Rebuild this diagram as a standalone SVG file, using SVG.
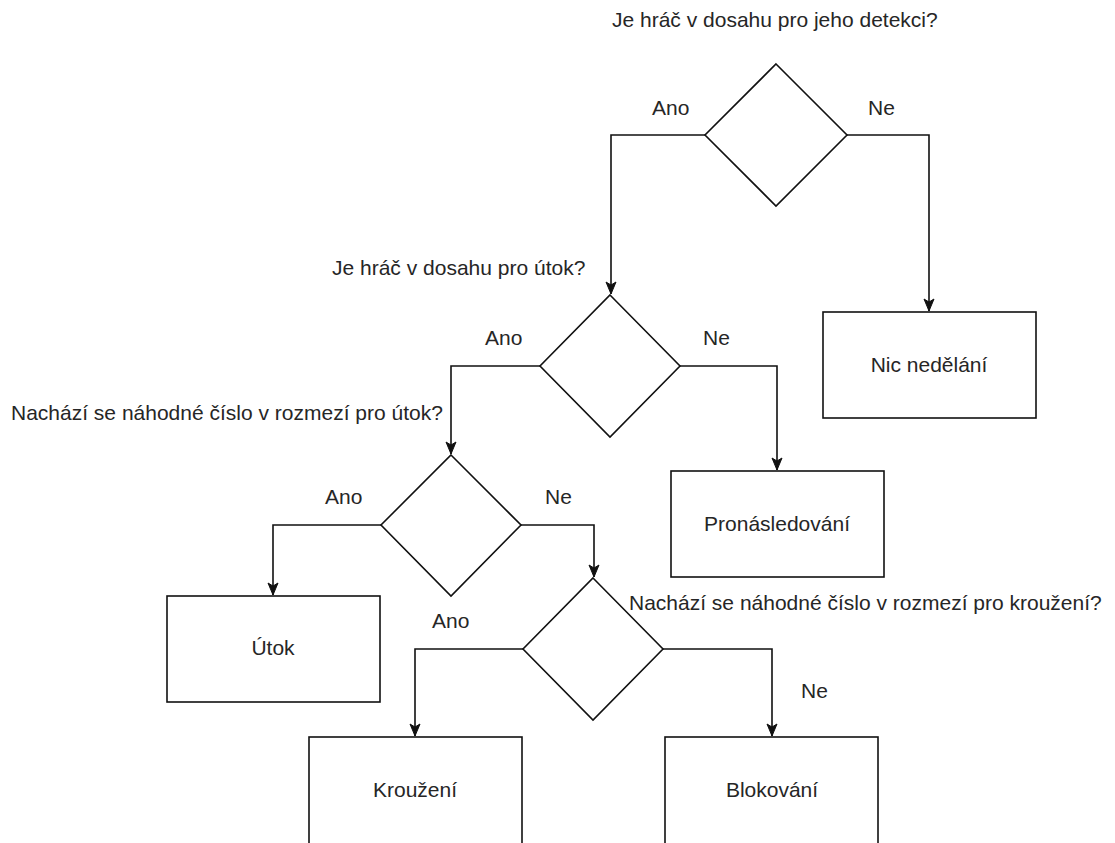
<svg xmlns="http://www.w3.org/2000/svg" width="1115" height="843" viewBox="0 0 1115 843">
  <style>
    text { font-family: "Liberation Sans", Arial, Helvetica, sans-serif; font-size: 21px; fill: #262626; }
    .mid { text-anchor: middle; }
    .shape { fill: #ffffff; stroke: #111111; stroke-width: 1.6; }
    .edge { fill: none; stroke: #111111; stroke-width: 1.6; }
  </style>
  <defs>
    <marker id="arrow" markerUnits="userSpaceOnUse" markerWidth="14" markerHeight="14" viewBox="0 0 14 14" refX="13" refY="7" orient="auto">
      <path d="M1,2 L13,7 L1,12 L4,7 Z" fill="#111111" stroke="#111111" stroke-width="1"/>
    </marker>
  </defs>
  <rect width="1115" height="843" fill="#ffffff"/>

  <!-- decisions -->
  <g id="decision-detekce">
    <polygon class="shape" points="776,64 847,135 776,206 705,135"/>
    <text x="612" y="27">Je hráč v dosahu pro jeho detekci?</text>
  </g>
  <g id="decision-utok">
    <polygon class="shape" points="610,295 680,366 610,437 540,366"/>
    <text x="332" y="275">Je hráč v dosahu pro útok?</text>
  </g>
  <g id="decision-nahoda-utok">
    <polygon class="shape" points="451,455 521,525 451,596 381,525"/>
    <text x="11" y="420">Nachází se náhodné číslo v rozmezí pro útok?</text>
  </g>
  <g id="decision-nahoda-krouzeni">
    <polygon class="shape" points="593,578 663,649 593,720 523,649"/>
    <text x="629" y="610">Nachází se náhodné číslo v rozmezí pro kroužení?</text>
  </g>

  <!-- actions -->
  <g id="action-nic">
    <rect class="shape" x="823" y="312" width="213" height="106"/>
    <text class="mid" x="929" y="372">Nic nedělání</text>
  </g>
  <g id="action-pronasledovani">
    <rect class="shape" x="671" y="471" width="213" height="106"/>
    <text class="mid" x="777" y="531">Pronásledování</text>
  </g>
  <g id="action-utok">
    <rect class="shape" x="167" y="596" width="213" height="106"/>
    <text class="mid" x="273" y="655">Útok</text>
  </g>
  <g id="action-krouzeni">
    <rect class="shape" x="309" y="737" width="213" height="110"/>
    <text class="mid" x="415" y="797">Kroužení</text>
  </g>
  <g id="action-blokovani">
    <rect class="shape" x="665" y="737" width="213" height="110"/>
    <text class="mid" x="772" y="797">Blokování</text>
  </g>

  <!-- connectors with their branch labels -->
  <g id="connectors">
    <path class="edge" d="M705,135 H611 V294" marker-end="url(#arrow)"/>
    <path class="edge" d="M847,135 H929 V311" marker-end="url(#arrow)"/>
    <path class="edge" d="M540,366 H451 V454" marker-end="url(#arrow)"/>
    <path class="edge" d="M680,366 H777 V470" marker-end="url(#arrow)"/>
    <path class="edge" d="M381,525 H273 V595" marker-end="url(#arrow)"/>
    <path class="edge" d="M521,525 H594 V577" marker-end="url(#arrow)"/>
    <path class="edge" d="M523,649 H415 V736" marker-end="url(#arrow)"/>
    <path class="edge" d="M663,649 H772 V736" marker-end="url(#arrow)"/>

    <text x="652" y="115">Ano</text>
    <text x="868" y="115">Ne</text>
    <text x="485" y="345">Ano</text>
    <text x="703" y="345">Ne</text>
    <text x="325" y="504">Ano</text>
    <text x="545" y="504">Ne</text>
    <text x="432" y="628">Ano</text>
    <text x="801" y="698">Ne</text>
  </g>
</svg>
